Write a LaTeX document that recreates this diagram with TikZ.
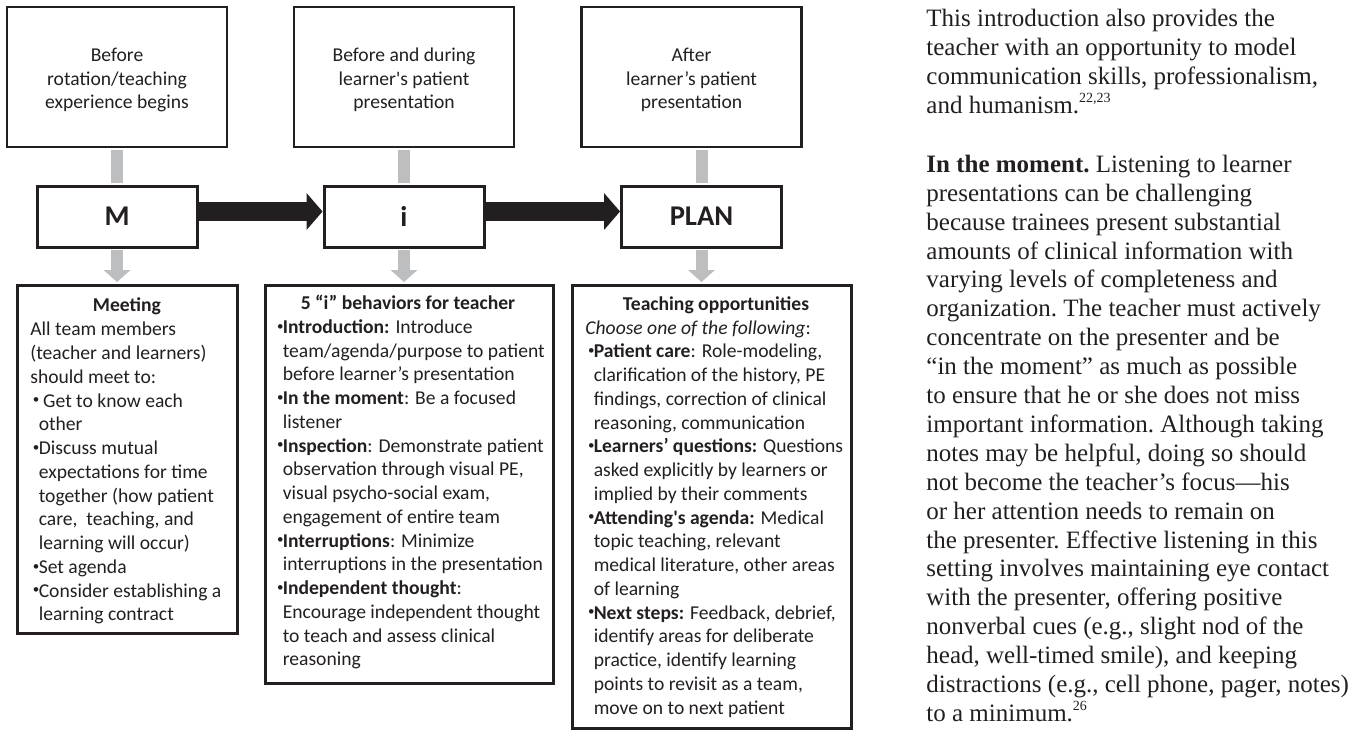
\documentclass[tikz,border=0pt]{standalone}
\usepackage{fontspec}
\setmainfont{Liberation Serif}
\newfontfamily\calfont{Carlito}
\usepackage{tikz}
\usetikzlibrary{
    arrows.meta
}
\definecolor{ink}{HTML}{231F20}
\definecolor{connector}{HTML}{BCBEC0}
\newlength{\bulw}
\setlength{\bulw}{4.2pt}
\newcommand{\bul}{\makebox[\bulw][l]{\hspace{1.3pt}\raisebox{1.6pt}{\fontsize{6.5}{7}\selectfont •}}}
\newcommand{\ind}{\hspace*{\bulw}}
\newcommand{\refnum}[1]{\raisebox{5.5pt}{\fontsize{7}{7}\selectfont #1}}

\begin{document}
\begin{tikzpicture}[x=0.5pt, y=-0.5pt,
        timebox/.style={draw=ink, line width=1.4pt, minimum width=110pt, minimum height=70pt, inner sep=0pt,
            align=center, text=ink, font=\calfont\fontsize{9.8}{11.75}\selectfont},
        stepbox/.style={draw=ink, line width=1.5pt, minimum width=80pt, minimum height=30.5pt, inner sep=0pt,
            text=ink, font=\calfont\bfseries\fontsize{14.3}{16}\selectfont},
        detailbox/.style={draw=ink, line width=1.5pt, inner sep=0pt},
        boxhead/.style={anchor=base, inner sep=0pt, text=ink, font=\calfont\bfseries\fontsize{9.8}{11.875}\selectfont},
        boxtext/.style={anchor=north west, inner sep=0pt, align=left, text=ink, font=\calfont\fontsize{9.8}{11.875}\selectfont},
        coltext/.style={anchor=north west, inner sep=0pt, align=left, text=ink, font=\frenchspacing\fontsize{12.5}{14.45}\selectfont},
        timeline/.style={draw=connector, line width=6pt, shorten <=0.75pt, shorten >=0.75pt},
        downarrow/.style={timeline, color=connector, -{Triangle[width=13.5pt, length=6pt, line width=0pt]}},
        steparrow/.style={draw=ink, color=ink, line width=9.5pt, -{Triangle[width=18.5pt, length=8pt, line width=0pt]}}
    ]
    \useasboundingbox (0,0) rectangle (1362,730);

    \node[timebox] (t1) at (117,77) {\rule{0pt}{10pt}Before\\rotation/teaching\\experience begins};
    \node[timebox] (t2) at (404,77) {\rule{0pt}{10pt}Before and during\\learner's patient\\presentation};
    \node[timebox] (t3) at (691.5,77) {\rule{0pt}{10pt}After\\learner’s patient\\presentation};

    \node[stepbox] (sM) at (117,216.5) {M};
    \node[stepbox] (si) at (404,216.5) {i};
    \node[stepbox] (sP) at (701.5,216.5) {PLAN};

    \node[detailbox, minimum width=110pt, minimum height=174pt] (dM) at (127,459) {};
    \node[detailbox, minimum width=144pt, minimum height=199pt] (di) at (409,484) {};
    \node[detailbox, minimum width=139.5pt, minimum height=221.5pt] (dP) at (711.5,506.5) {};

    \node[boxhead] (dMhead) at (127,311.5) {Meeting};
    \node[boxhead] (dihead) at (408,309.5) {5 “i” behaviors for teacher};
    \node[boxhead] (dPhead) at (716,310) {Teaching opportunities};

    \node[boxtext] (dMtext) at (30,318.8) {\strut All team members\\
        (teacher and learners)\\
        should meet to:\\
        \bul\ Get to know each\\
        \ind other\\
        \bul Discuss mutual\\
        \ind expectations for time\\
        \ind together (how patient\\
        \ind care,\ \ teaching, and\\
        \ind learning will occur)\\
        \bul Set agenda\\
        \bul Consider establishing a\\
        \ind learning contract};
    \node[boxtext] (ditext) at (274,316.4) {\strut\bul\textbf{Introduction:} Introduce\\
        \ind team/agenda/purpose to patient\\
        \ind before learner’s presentation\\
        \bul\textbf{In the moment}: Be a focused\\
        \ind listener\\
        \bul\textbf{Inspection}: Demonstrate patient\\
        \ind observation through visual PE,\\
        \ind visual psycho-social exam,\\
        \ind engagement of entire team\\
        \bul\textbf{Interruptions}: Minimize\\
        \ind interruptions in the presentation\\
        \bul\textbf{Independent thought}:\\
        \ind Encourage independent thought\\
        \ind to teach and assess clinical\\
        \ind reasoning};
    \node[boxtext] (dPtext) at (585,317.1) {\strut\textit{Choose one of the following}:\\
        \bul\textbf{Patient care}: Role-modeling,\\
        \ind clarification of the history, PE\\
        \ind findings, correction of clinical\\
        \ind reasoning, communication\\
        \bul\textbf{Learners’ questions:} Questions\\
        \ind asked explicitly by learners or\\
        \ind implied by their comments\\
        \bul\textbf{Attending's agenda:} Medical\\
        \ind topic teaching, relevant\\
        \ind medical literature, other areas\\
        \ind of learning\\
        \bul\textbf{Next steps:} Feedback, debrief,\\
        \ind identify areas for deliberate\\
        \ind practice, identify learning\\
        \ind points to revisit as a team,\\
        \ind move on to next patient};

    \foreach \a/\b in {t1/sM, t2/si, t3/sP} {
        \draw[timeline] (\b.north |- \a.south) -- (\b.north);
    }
    \foreach \a/\b in {sM/dM, si/di, sP/dP} {
        \draw[downarrow] (\a.south) -- (\a.south |- \b.north);
    }
    \foreach \a/\b in {sM/si, si/sP} {
        \draw[steparrow] ([yshift=2.5pt]\a.east) -- ([yshift=2.5pt]\b.west);
    }

    \node[coltext] (col1) at (926,5.8) {\strut This introduction also provides the\\
        teacher with an opportunity to model\\
        communication skills, professionalism,\\
        and humanism.\refnum{22,23}};
    \node[coltext] (col2) at (926,151.7) {\strut\textbf{In the moment.} Listening to learner\\
        presentations can be challenging\\
        because trainees present substantial\\
        amounts of clinical information with\\
        varying levels of completeness and\\
        organization. The teacher must actively\\
        concentrate on the presenter and be\\
        “in the moment” as much as possible\\
        to ensure that he or she does not miss\\
        important information. Although taking\\
        notes may be helpful, doing so should\\
        not become the teacher’s focus—his\\
        or her attention needs to remain on\\
        the presenter. Effective listening in this\\
        setting involves maintaining eye contact\\
        with the presenter, offering positive\\
        nonverbal cues (e.g., slight nod of the\\
        head, well-timed smile), and keeping\\
        distractions (e.g., cell phone, pager, notes)\\
        to a minimum.\refnum{26}};
\end{tikzpicture}
\end{document}
